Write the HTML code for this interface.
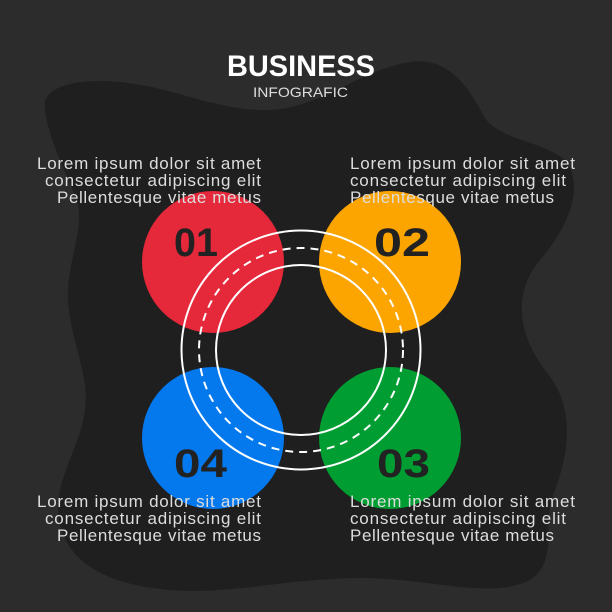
<!DOCTYPE html>
<html><head><style>
html,body{margin:0;padding:0;background:#2c2c2c;}
svg{display:block}
text{font-family:"Liberation Sans",sans-serif;}
</style></head><body>
<svg width="612" height="612" viewBox="0 0 612 612" xmlns="http://www.w3.org/2000/svg">
<rect width="612" height="612" fill="#2c2c2c"/>
<path fill="#1f1f1f" d="M45,110 C40,85 80,78 120,82 C170,86 220,112 270,110 C320,108 360,70 410,62 C450,56 470,90 485,118 C500,140 540,140 565,160 C585,185 570,225 540,260 C515,290 515,330 545,370 C575,405 570,450 555,490 C540,525 560,560 530,580 C490,600 430,578 360,578 C290,578 230,595 170,590 C110,585 70,565 60,525 C50,485 80,450 85,410 C90,375 70,340 68,300 C66,260 88,225 75,195 C62,165 48,135 45,110 Z"/>
<text x="227" y="76" textLength="148" lengthAdjust="spacingAndGlyphs" fill="#fff" font-size="30" font-weight="bold">BUSINESS</text>
<text x="253" y="97" textLength="95" lengthAdjust="spacingAndGlyphs" fill="#ddd" font-size="14">INFOGRAFIC</text>
<circle cx="213" cy="262" r="71" fill="#e5283a"/>
<circle cx="390" cy="262" r="71" fill="#fca400"/>
<circle cx="213" cy="438" r="71" fill="#0479ee"/>
<circle cx="390" cy="438" r="71" fill="#009d32"/>
<g fill="none" stroke="#fff" stroke-width="2">
<circle cx="301" cy="350" r="119.5"/>
<circle cx="301" cy="350" r="85"/>
<circle cx="301" cy="350" r="102" stroke-dasharray="8 6"/>
</g>
<g fill="#222" font-size="40" font-weight="bold">
<text x="174" y="256" textLength="44" lengthAdjust="spacingAndGlyphs">01</text>
<text x="374" y="256" textLength="56" lengthAdjust="spacingAndGlyphs">02</text>
<text x="174" y="477" textLength="53" lengthAdjust="spacingAndGlyphs">04</text>
<text x="377" y="477" textLength="53" lengthAdjust="spacingAndGlyphs">03</text>
</g>
<g fill="#ddd" font-size="17" lengthAdjust="spacingAndGlyphs">
<text x="37" y="169" textLength="224">Lorem ipsum dolor sit amet</text>
<text x="45" y="186" textLength="216">consectetur adipiscing elit</text>
<text x="57" y="203" textLength="204">Pellentesque vitae metus</text>
<text x="37" y="507" textLength="224">Lorem ipsum dolor sit amet</text>
<text x="45" y="524" textLength="216">consectetur adipiscing elit</text>
<text x="57" y="541" textLength="204">Pellentesque vitae metus</text>
<text x="350" y="169" textLength="225">Lorem ipsum dolor sit amet</text>
<text x="350" y="186" textLength="216">consectetur adipiscing elit</text>
<text x="350" y="203" textLength="204">Pellentesque vitae metus</text>
<text x="350" y="507" textLength="225">Lorem ipsum dolor sit amet</text>
<text x="350" y="524" textLength="216">consectetur adipiscing elit</text>
<text x="350" y="541" textLength="204">Pellentesque vitae metus</text>
</g>
</svg>
</body></html>
